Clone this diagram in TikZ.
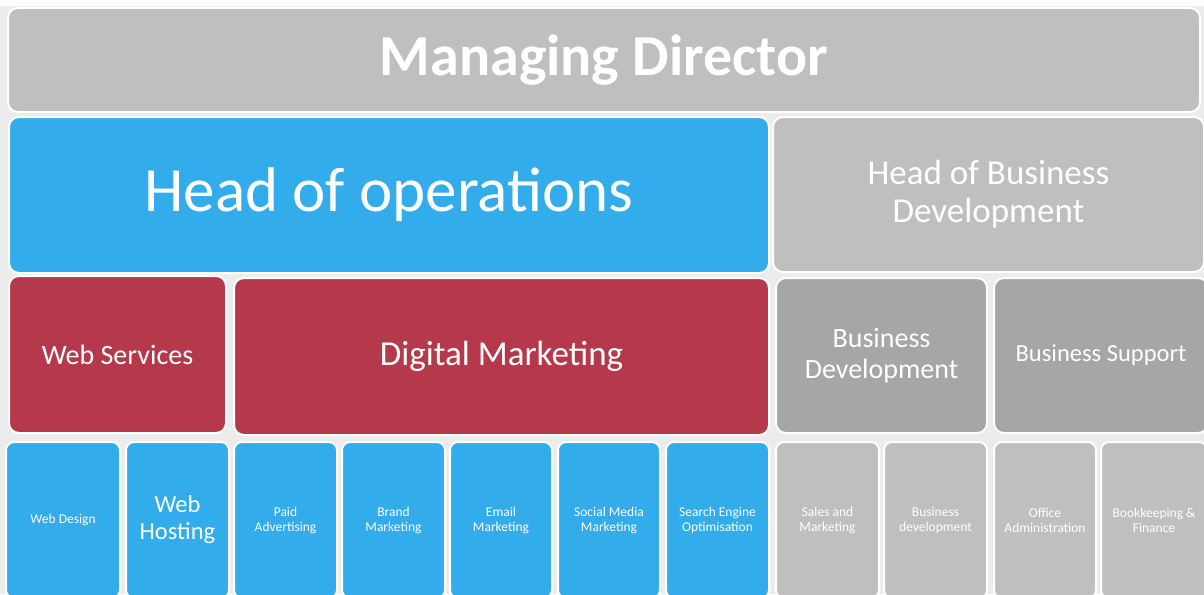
\documentclass[tikz,border=0pt]{standalone}
\usepackage{fontspec}
\setmainfont{Carlito}

\definecolor{mdgray}{HTML}{BFBFBF}
\definecolor{opsblue}{HTML}{32ACEA}
\definecolor{dmred}{HTML}{B5394B}
\definecolor{bddark}{HTML}{A6A6A6}
\definecolor{backdrop}{HTML}{ECECEC}

\tikzset{
  tile/.style={draw=white, line width=2pt, rounded corners=10pt, anchor=north west,
    text=white, align=center, inner sep=0pt},
  small/.style={tile, rounded corners=8pt, minimum height=156pt,
    font=\fontsize{13.5}{15}\selectfont},
}

\begin{document}
\begin{tikzpicture}[x=1pt, y=-1pt]
    \clip (0,0) rectangle (1204,594);
    \fill[backdrop] (0,0) rectangle (1204,594);
    \fill[white] (0,0) rectangle (1204,6);

    % top level
    \node[tile, fill=mdgray, minimum width=1192pt, minimum height=104pt,
      font=\fontsize{58}{60}\bfseries\selectfont] (md) at (7,7) {Managing Director};

    % second level
    \node[tile, fill=opsblue, minimum width=760pt, minimum height=156pt,
      font=\fontsize{63}{66}\selectfont] (hops) at (8,116) {Head of operations};
    \node[tile, fill=mdgray, minimum width=431pt, minimum height=155pt,
      font=\fontsize{35}{38}\selectfont] (hbd) at (772,116) {Head of Business\\Development};

    % departments
    \node[tile, fill=dmred, minimum width=217pt, minimum height=157pt,
      font=\fontsize{28}{30}\selectfont] (ws) at (8,275) {Web Services};
    \node[tile, fill=dmred, minimum width=535pt, minimum height=157pt,
      font=\fontsize{35}{38}\selectfont] (dm) at (233,277) {Digital Marketing};
    \node[tile, fill=bddark, minimum width=211pt, minimum height=155pt,
      font=\fontsize{28}{31}\selectfont] (bd) at (775,277) {Business\\Development};
    \node[tile, fill=bddark, minimum width=214pt, minimum height=155pt,
      font=\fontsize{24.5}{27}\selectfont] (bs) at (993,277) {Business Support};

    % teams
    \node[small, fill=opsblue, minimum width=114pt] (wd) at (5,441) {Web Design};
    \node[small, fill=opsblue, minimum width=103pt,
      font=\fontsize{24.5}{27}\selectfont] (wh) at (125,441) {Web\\Hosting};
    \node[small, fill=opsblue, minimum width=103pt] (pa) at (233,441) {Paid\\Advertising};
    \node[small, fill=opsblue, minimum width=103pt] (bm) at (341,441) {Brand\\Marketing};
    \node[small, fill=opsblue, minimum width=102pt] (em) at (449,441) {Email\\Marketing};
    \node[small, fill=opsblue, minimum width=102pt] (smm) at (557,441) {Social Media\\Marketing};
    \node[small, fill=opsblue, minimum width=103pt] (seo) at (665,441) {Search Engine\\Optimisation};
    \node[small, fill=mdgray, minimum width=103pt] (sm) at (775,441) {Sales and\\Marketing};
    \node[small, fill=mdgray, minimum width=103pt] (bdev) at (883,441) {Business\\development};
    \node[small, fill=mdgray, minimum width=102pt] (oa) at (993,441) {Office\\Administration};
    \node[small, fill=mdgray, minimum width=106pt] (bf) at (1100,441) {Bookkeeping \&\\Finance};
\end{tikzpicture}
\end{document}
